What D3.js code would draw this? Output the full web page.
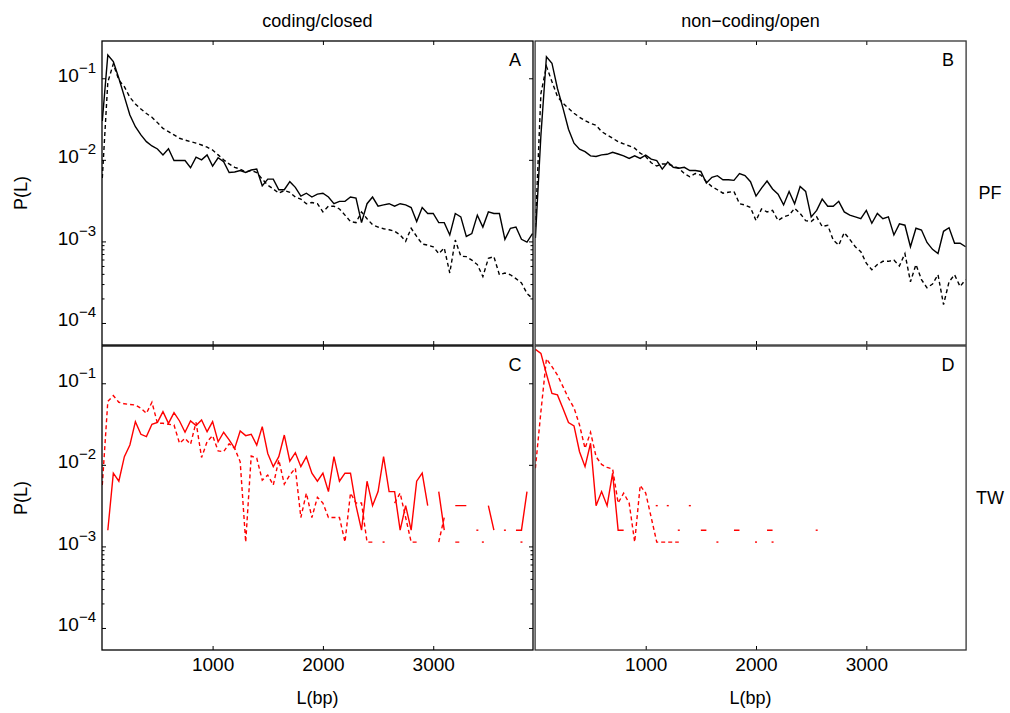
<!DOCTYPE html>
<html>
<head>
<meta charset="utf-8">
<script src="https://cdn.jsdelivr.net/npm/d3@7/dist/d3.min.js"></script>
<style>
  body { margin: 0; background: #fff; }
  text { font-family: "Liberation Sans", Arial, Helvetica, sans-serif; fill: #000; }
</style>
</head>
<body>
<svg id="fig" width="1010" height="713"></svg>
<script>
// bin start length L (bp), one entry per histogram bin
var binL = [0, 50, 100, 150, 200, 250, 300, 350, 400, 450, 500, 550, 600, 650, 700, 750, 800, 850, 900, 950,
  1000, 1050, 1100, 1150, 1200, 1250, 1300, 1350, 1400, 1450, 1500, 1550, 1600, 1650, 1700, 1750, 1800, 1850, 1900, 1950,
  2000, 2050, 2100, 2150, 2200, 2250, 2300, 2350, 2400, 2450, 2500, 2550, 2600, 2650, 2700, 2750, 2800, 2850, 2900, 2950,
  3000, 3050, 3100, 3150, 3200, 3250, 3300, 3350, 3400, 3450, 3500, 3550, 3600, 3650, 3700, 3750, 3800, 3850, 3900];

var xTicks = [1000, 2000, 3000];
var yTicks = [1e-4, 1e-3, 1e-2, 1e-1];
var yMinorTicks = [2e-4, 3e-4, 4e-4, 5e-4, 6e-4, 7e-4, 8e-4, 9e-4];
var columnTitles = ["coding/closed", "non\u2212coding/open"];
var rowTitles = ["PF", "TW"];

// P(L), 0 = empty bin
// A: PF, coding/closed
var aSolid = [0.03, 0.193, 0.16, 0.1, 0.0595, 0.0355, 0.0255, 0.0202, 0.0167, 0.0148,
  0.0136, 0.0115, 0.0137, 0.0098, 0.0098, 0.0098, 0.008, 0.0108, 0.01, 0.0115,
  0.0084, 0.0106, 0.0095, 0.007, 0.0071, 0.0074, 0.007, 0.0075, 0.0077, 0.0048,
  0.0058, 0.0058, 0.0043, 0.0043, 0.0054, 0.0046, 0.0036, 0.0039, 0.0035, 0.0038,
  0.0039, 0.0035, 0.0029, 0.0031, 0.0031, 0.0035, 0.0034, 0.0017, 0.0029, 0.0035,
  0.0027, 0.0028, 0.0029, 0.0027, 0.0029, 0.0028, 0.0026, 0.00175, 0.0026, 0.0022,
  0.0022, 0.0017, 0.0017, 0.0012, 0.0022, 0.002, 0.00115, 0.00125, 0.0021, 0.0015,
  0.0023, 0.0022, 0.0022, 0.00106, 0.00145, 0.0015, 0.00106, 0.00098, 0.00125];
var aDashed = [0.006, 0.09, 0.15, 0.095, 0.079, 0.0585, 0.0484, 0.042, 0.037, 0.0333,
  0.0286, 0.0243, 0.0222, 0.0202, 0.0184, 0.0175, 0.0167, 0.016, 0.0152, 0.0143,
  0.0132, 0.0115, 0.01, 0.0089, 0.0081, 0.0077, 0.0071, 0.0074, 0.007, 0.0058,
  0.0049, 0.0044, 0.0039, 0.0042, 0.004, 0.0035, 0.0033, 0.0029, 0.003, 0.0029,
  0.0023, 0.0027, 0.0027, 0.0025, 0.0021, 0.00175, 0.0017, 0.0023, 0.0019, 0.0016,
  0.0015, 0.00143, 0.00139, 0.00133, 0.0012, 0.001, 0.00145, 0.00115, 0.00093, 0.0009,
  0.00086, 0.00071, 0.00083, 0.00041, 0.00104, 0.00066, 0.00065, 0.00059, 0.00052, 0.00037,
  0.00062, 0.00065, 0.00039, 0.00041, 0.00039, 0.00035, 0.00031, 0.00023, 0.0002];

// B: PF, non-coding/open
var bSolid = [0.0011, 0.02, 0.184, 0.153, 0.075, 0.043, 0.0237, 0.016, 0.0135, 0.0126,
  0.0112, 0.011, 0.0115, 0.0117, 0.0124, 0.0118, 0.0112, 0.0104, 0.0112, 0.0104,
  0.0114, 0.0102, 0.0098, 0.0077, 0.0094, 0.0081, 0.0079, 0.0081, 0.0074, 0.0074,
  0.0072, 0.0052, 0.0061, 0.0064, 0.0057, 0.0057, 0.0056, 0.0068, 0.0064, 0.0054,
  0.0036, 0.0045, 0.0055, 0.0044, 0.0038, 0.0028, 0.0041, 0.0029, 0.0047, 0.0041,
  0.002, 0.0024, 0.0033, 0.0027, 0.0027, 0.0031, 0.0023, 0.0021, 0.002, 0.0019,
  0.0024, 0.00167, 0.0022, 0.0019, 0.002, 0.0012, 0.00164, 0.00158, 0.00086, 0.00145,
  0.00138, 0.00097, 0.0008, 0.00071, 0.00133, 0.00147, 0.00095, 0.00095, 0.00086];
var bDashed = [0.0015, 0.065, 0.14, 0.091, 0.0595, 0.0494, 0.0428, 0.0372, 0.0333, 0.0302,
  0.028, 0.0265, 0.0222, 0.0202, 0.0184, 0.0167, 0.0157, 0.0148, 0.0139, 0.0121,
  0.011, 0.0092, 0.0084, 0.0089, 0.0089, 0.0084, 0.0079, 0.0068, 0.0062, 0.0068,
  0.0065, 0.0054, 0.0047, 0.0043, 0.0039, 0.004, 0.0041, 0.0029, 0.0028, 0.0026,
  0.0018, 0.0025, 0.0023, 0.0024, 0.0018, 0.002, 0.0021, 0.00255, 0.0022, 0.0018,
  0.00175, 0.002, 0.00152, 0.00158, 0.00104, 0.0009, 0.00128, 0.00106, 0.00086, 0.00075,
  0.00054, 0.00045, 0.00052, 0.00057, 0.00057, 0.00059, 0.0005, 0.00071, 0.00032, 0.00052,
  0.00034, 0.00027, 0.0003, 0.00039, 0.000168, 0.00032, 0.00039, 0.00028, 0.00034];

// C: TW, coding/closed
var cSolid = [0, 0.00158, 0.0079, 0.0063, 0.0126, 0.0175, 0.0339, 0.0237, 0.0222, 0.0314,
  0.0332, 0.0449, 0.0323, 0.0437, 0.0345, 0.0251, 0.0345, 0.0303, 0.0355, 0.0255,
  0.0339, 0.0192, 0.0251, 0.0202, 0.0159, 0.026, 0.0228, 0.0237, 0.0175, 0.0294,
  0.0138, 0.0095, 0.0126, 0.0232, 0.0111, 0.0141, 0.0095, 0.0126, 0.0079, 0.0063,
  0.0079, 0.0047, 0.0126, 0.0063, 0.0079, 0.0079, 0.00316, 0.00158, 0.0063, 0.00316,
  0.0047, 0.0126, 0.0047, 0.0047, 0.00158, 0.00316, 0.00158, 0.0063, 0.0079, 0.00316,
  0, 0.0047, 0.00158, 0, 0.00316, 0.00316, 0.00316, 0, 0.00158, 0,
  0.00316, 0.00158, 0, 0.00158, 0, 0.00158, 0.00158, 0.0047, 0];
var cDashed = [0.00565, 0.06, 0.0706, 0.0585, 0.056, 0.055, 0.0542, 0.0494, 0.0428, 0.0585,
  0.0323, 0.0323, 0.0314, 0.0308, 0.0184, 0.0211, 0.0179, 0.0332, 0.0123, 0.0192,
  0.0228, 0.0148, 0.0145, 0.0181, 0.0159, 0.0109, 0.00113, 0.0128, 0.0121, 0.0065,
  0.0075, 0.00565, 0.0115, 0.0058, 0.0075, 0.0091, 0.00226, 0.0045, 0.00226, 0.004,
  0.0034, 0.00226, 0.00226, 0.00226, 0.00113, 0.0045, 0.0034, 0.0034, 0.00113, 0.00113,
  0, 0.00113, 0, 0.0034, 0.0045, 0.00226, 0.00113, 0.00113, 0, 0,
  0, 0.00113, 0.00226, 0, 0.00113, 0.00113, 0, 0, 0, 0.00113,
  0, 0, 0, 0, 0, 0, 0.00113, 0, 0];

// D: TW, non-coding/open
var dSolid = [0.26, 0.233, 0.13, 0.075, 0.072, 0.049, 0.033, 0.03, 0.0145, 0.0095,
  0.0184, 0.00316, 0.0047, 0.00316, 0.0079, 0.00158, 0.00158, 0, 0, 0,
  0, 0, 0.00316, 0, 0.00316, 0, 0.00158, 0, 0.00316, 0,
  0.00158, 0.00158, 0, 0, 0, 0, 0.00158, 0.00158, 0, 0,
  0, 0, 0.00158, 0.00158, 0, 0, 0, 0, 0, 0,
  0, 0.00158, 0, 0, 0, 0, 0, 0, 0, 0,
  0, 0, 0, 0, 0, 0, 0, 0, 0, 0,
  0, 0, 0, 0, 0, 0, 0, 0, 0];
var dDashed = [0.0091, 0.045, 0.2, 0.16, 0.126, 0.091, 0.0655, 0.05, 0.0308, 0.0159,
  0.0251, 0.0126, 0.0101, 0.0093, 0.0089, 0.0034, 0.0045, 0.0034, 0.00113, 0.0056,
  0.0045, 0.00226, 0.00113, 0.00113, 0.00113, 0.00113, 0.00113, 0, 0, 0,
  0, 0, 0, 0.00113, 0, 0, 0, 0, 0, 0,
  0.00113, 0, 0, 0.00113, 0, 0, 0, 0, 0, 0,
  0, 0, 0, 0, 0, 0, 0, 0, 0, 0,
  0, 0, 0, 0, 0, 0, 0, 0, 0, 0,
  0, 0, 0, 0, 0, 0, 0, 0, 0];

var svg = d3.select("#fig");
var font = "Liberation Sans, Arial, sans-serif";

var colX = [[102.3, 532.5], [535.4, 965.6]];
var rowY = [[345, 41], [650, 346]];
var yDomain = [Math.pow(10, -4.27), Math.pow(10, -0.543)];

var panels = [
  { letter: "A", col: 0, row: 0, color: "#000", solid: aSolid, dashed: aDashed },
  { letter: "B", col: 1, row: 0, color: "#000", solid: bSolid, dashed: bDashed },
  { letter: "C", col: 0, row: 1, color: "#ff0000", solid: cSolid, dashed: cDashed },
  { letter: "D", col: 1, row: 1, color: "#ff0000", solid: dSolid, dashed: dDashed }
];

panels.forEach(function(p, i) {
  var xScale = d3.scaleLinear().domain([0, 3900]).range(colX[p.col]);
  var yScale = d3.scaleLog().domain(yDomain).range(rowY[p.row]);
  var x0 = colX[p.col][0] - 0.3, x1 = colX[p.col][1] + 0.5;
  var y0 = rowY[p.row][1], y1 = rowY[p.row][0];

  var g = svg.append("g").attr("class", "panel");

  g.append("clipPath").attr("id", "clip" + i)
    .append("rect")
    .attr("x", x0).attr("y", y0)
    .attr("width", x1 - x0).attr("height", y1 - y0);

  var plot = g.append("g").attr("clip-path", "url(#clip" + i + ")");

  var line = d3.line()
    .defined(function(d) { return d.v > 0; })
    .x(function(d) { return xScale(d.L); })
    .y(function(d) { return yScale(d.v); });

  [["solid", null], ["dashed", "4,3"]].forEach(function(s) {
    var vals = p[s[0]];
    var pts = binL.map(function(L, k) { return { L: L, v: vals[k] }; });

    plot.append("path")
      .datum(pts)
      .attr("d", line)
      .attr("fill", "none")
      .attr("stroke", p.color)
      .attr("stroke-width", 1.4)
      .attr("stroke-dasharray", s[1])
      .attr("stroke-linejoin", "miter");

    // single non-empty bins between empty ones show up as dots
    var lonely = pts.filter(function(d, k) {
      return d.v > 0 && !(vals[k - 1] > 0) && !(vals[k + 1] > 0);
    });
    plot.selectAll(".dot-" + s[0])
      .data(lonely)
      .enter().append("rect")
      .attr("class", "dot-" + s[0])
      .attr("x", function(d) { return xScale(d.L) - 1; })
      .attr("y", function(d) { return yScale(d.v) - 0.7; })
      .attr("width", 2)
      .attr("height", 1.4)
      .attr("fill", p.color);
  });

  // x ticks, inward, on bottom and top
  var showX = p.row === 1;
  var xb = g.append("g")
    .attr("transform", "translate(0," + y1 + ")")
    .call(d3.axisBottom(xScale).tickValues(xTicks)
      .tickSizeInner(-4).tickSizeOuter(0).tickPadding(8)
      .tickFormat(showX ? d3.format("d") : ""));
  xb.select(".domain").remove();
  xb.selectAll("text").style("font-size", "19px").style("font-family", font);

  var xt = g.append("g")
    .attr("transform", "translate(0," + y0 + ")")
    .call(d3.axisTop(xScale).tickValues(xTicks)
      .tickSizeInner(-4).tickSizeOuter(0).tickFormat(""));
  xt.select(".domain").remove();

  // y ticks only on the left column
  if (p.col === 0) {
    var yl = g.append("g")
      .attr("transform", "translate(" + x0 + ",0)")
      .call(d3.axisLeft(yScale).tickValues(yTicks)
        .tickSizeInner(-4).tickSizeOuter(0).tickPadding(7)
        .tickFormat(""));
    yl.select(".domain").remove();
    yl.selectAll(".tick").append("text")
      .attr("x", -6)
      .attr("y", 3)
      .attr("text-anchor", "end")
      .style("font-size", "19px")
      .each(function(d) {
        var t = d3.select(this);
        t.append("tspan").text("10");
        t.append("tspan")
          .attr("dy", -9)
          .style("font-size", "15px")
          .text("\u2212" + Math.round(-Math.log10(d)));
      });

    var ylm = g.append("g")
      .attr("transform", "translate(" + x0 + ",0)")
      .call(d3.axisLeft(yScale).tickValues(yMinorTicks)
        .tickSizeInner(-2.5).tickSizeOuter(0).tickFormat(""));
    ylm.select(".domain").remove();

    var yr = g.append("g")
      .attr("transform", "translate(" + x1 + ",0)")
      .call(d3.axisRight(yScale).tickValues(yTicks)
        .tickSizeInner(-4).tickSizeOuter(0).tickFormat(""));
    yr.select(".domain").remove();
    var yrm = g.append("g")
      .attr("transform", "translate(" + x1 + ",0)")
      .call(d3.axisRight(yScale).tickValues(yMinorTicks)
        .tickSizeInner(-2.5).tickSizeOuter(0).tickFormat(""));
    yrm.select(".domain").remove();

    g.append("text")
      .attr("transform", "translate(27," + ((y0 + y1) / 2) + ") rotate(-90)")
      .attr("text-anchor", "middle")
      .style("font-size", "18px")
      .text("P(L)");
  }

  g.selectAll(".tick line").attr("stroke", "#000");

  g.append("rect")
    .attr("x", x0).attr("y", y0)
    .attr("width", x1 - x0).attr("height", y1 - y0)
    .attr("fill", "none")
    .attr("stroke", p.col === 0 ? "#000" : "#333")
    .attr("stroke-width", 1.3);

  g.append("text")
    .attr("x", x1 - 18).attr("y", y0 + 25)
    .attr("text-anchor", "middle")
    .style("font-size", "18px")
    .text(p.letter);

  if (showX) {
    g.append("text")
      .attr("x", (x0 + x1) / 2).attr("y", 704)
      .attr("text-anchor", "middle")
      .style("font-size", "18px")
      .text("L(bp)");
  }
});

columnTitles.forEach(function(t, c) {
  svg.append("text")
    .attr("x", (colX[c][0] + colX[c][1]) / 2)
    .attr("y", 27)
    .attr("text-anchor", "middle")
    .style("font-size", "18px")
    .text(t);
});

rowTitles.forEach(function(t, r) {
  svg.append("text")
    .attr("x", 990)
    .attr("y", (rowY[r][0] + rowY[r][1]) / 2 + 6)
    .attr("text-anchor", "middle")
    .style("font-size", "18px")
    .text(t);
});
</script>
</body>
</html>
